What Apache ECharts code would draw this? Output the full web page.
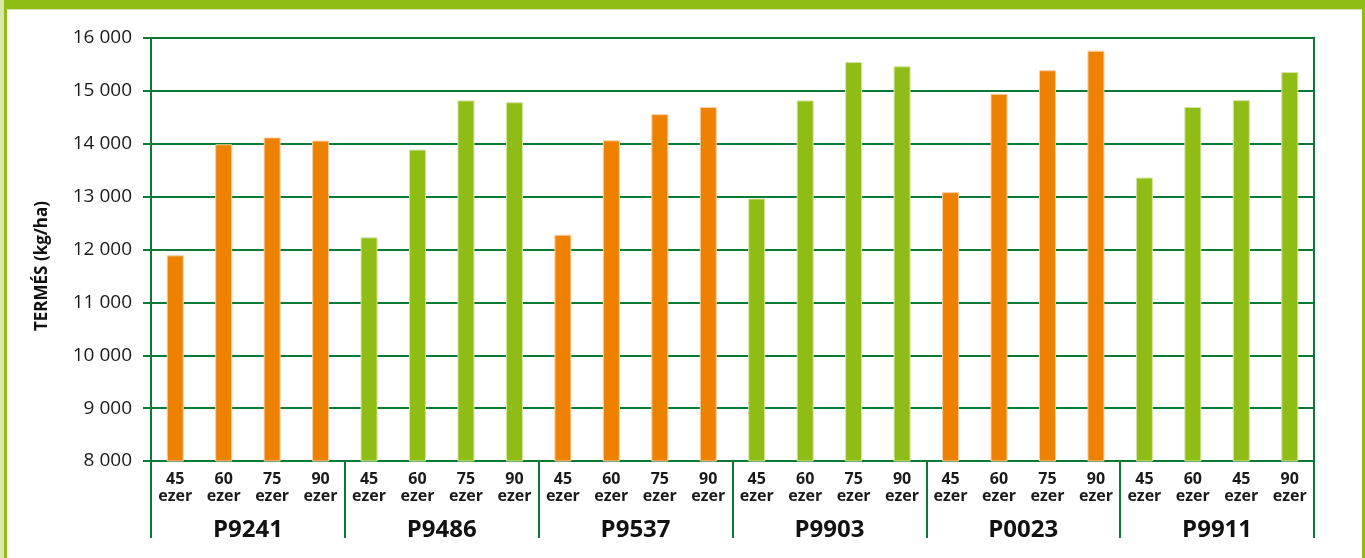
<!DOCTYPE html>
<html>
<head>
<meta charset="utf-8">
<script src="https://cdn.jsdelivr.net/npm/echarts@6/dist/echarts.min.js"></script>
<style>
  html, body { margin: 0; padding: 0; background: #fff; }
  #chart { width: 1365px; height: 558px; }
</style>
</head>
<body>
<div id="chart"></div>
<script>
// hibridek és tőszámok (ezer/ha)
var groups = ['P9241', 'P9486', 'P9537', 'P9903', 'P0023', 'P9911'];
var densities = [
  ['45', '60', '75', '90'],
  ['45', '60', '75', '90'],
  ['45', '60', '75', '90'],
  ['45', '60', '75', '90'],
  ['45', '60', '75', '90'],
  ['45', '60', '45', '90']
];
// termés kg/ha
var yields = [
  [11890, 13990, 14120, 14060],
  [12230, 13890, 14820, 14785],
  [12280, 14065, 14560, 14695],
  [12965, 14820, 15545, 15465],
  [13085, 14945, 15390, 15760],
  [13360, 14695, 14825, 15355]
];
var groupColors = ['#EE8100', '#8FBC15', '#EE8100', '#8FBC15', '#EE8100', '#8FBC15'];
var yTicks = { min: 8000, max: 16000, step: 1000 };

var lineGreen = '#0B7A36';
var borderLight = { '#EE8100': '#F8CFA6', '#8FBC15': '#D3E6A2' };

var categories = [], barData = [];
for (var g = 0; g < groups.length; g++) {
  for (var i = 0; i < densities[g].length; i++) {
    categories.push(groups[g] + '|' + densities[g][i]);
    barData.push({
      value: yields[g][i],
      itemStyle: { color: groupColors[g], borderColor: borderLight[groupColors[g]], borderWidth: 1 }
    });
  }
}

var myChart = echarts.init(document.getElementById('chart'));

var option = {
  backgroundColor: '#fff',
  animation: false,
  grid: {
    left: 151, right: 51, top: 38, bottom: 97,
    show: true, borderColor: lineGreen, borderWidth: 2, backgroundColor: 'transparent'
  },
  xAxis: [
    {
      type: 'category',
      data: categories,
      boundaryGap: true,
      axisLine: { show: true, lineStyle: { color: lineGreen, width: 2 } },
      axisTick: { show: false },
      axisLabel: {
        interval: 0,
        margin: 10,
        color: '#1a1a1a',
        fontFamily: 'Open Sans',
        fontWeight: 'bold',
        fontSize: 16,
        lineHeight: 17,
        formatter: function (v) { return v.split('|')[1] + '\nezer'; }
      }
    },
    {
      type: 'category',
      data: groups,
      position: 'bottom',
      boundaryGap: true,
      axisLine: { show: false },
      axisTick: { show: true, interval: 0, length: 77, inside: false, lineStyle: { color: lineGreen, width: 2 } },
      axisLabel: {
        interval: 0,
        margin: 57,
        color: '#111',
        fontFamily: 'Open Sans',
        fontWeight: 'bold',
        fontSize: 24
      }
    }
  ],
  yAxis: {
    type: 'value',
    min: yTicks.min,
    max: yTicks.max,
    interval: yTicks.step,
    axisLine: { show: true, lineStyle: { color: lineGreen, width: 2 } },
    axisTick: { show: true, length: 8, lineStyle: { color: lineGreen, width: 2 } },
    splitLine: { show: true, lineStyle: { color: lineGreen, width: 2 } },
    axisLabel: {
      margin: 19,
      color: '#1a1a1a',
      fontFamily: 'Open Sans',
      fontSize: 19,
      formatter: function (v) { return String(v).replace(/\B(?=(\d{3})+(?!\d))/g, ' '); }
    }
  },
  series: [
    {
      type: 'bar',
      xAxisIndex: 0,
      barWidth: 17,
      data: barData
    }
  ],
  graphic: [
    { type: 'rect', left: 0, top: 0, shape: { width: 1365, height: 9 }, style: { fill: '#8FBC15' }, silent: true },
    { type: 'rect', left: 0, top: 9, shape: { width: 1365, height: 1 }, style: { fill: '#D6E8AE' }, silent: true },
    { type: 'rect', left: 0, top: 0, shape: { width: 4, height: 558 }, style: { fill: '#D6E8AE' }, silent: true },
    { type: 'rect', left: 4, top: 0, shape: { width: 3, height: 558 }, style: { fill: '#8FBC15' }, silent: true },
    { type: 'rect', left: 1362, top: 0, shape: { width: 3, height: 558 }, style: { fill: '#8FBC15' }, silent: true },
    {
      type: 'text',
      x: 42, y: 266,
      rotation: Math.PI / 2,
      style: {
        text: 'TERMÉS (kg/ha)',
        fill: '#111',
        font: 'bold 17px "Open Sans"',
        textAlign: 'center',
        textVerticalAlign: 'middle'
      }
    }
  ]
};

myChart.setOption(option);
</script>
</body>
</html>
